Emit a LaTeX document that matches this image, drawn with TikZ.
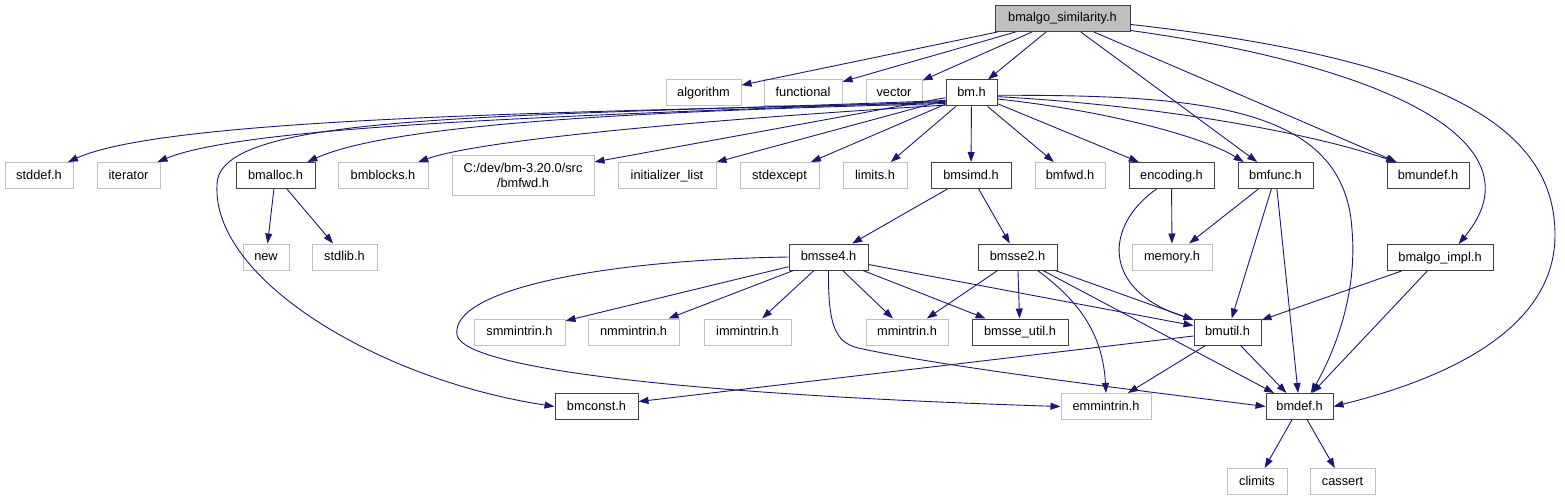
\documentclass[tikz,border=0pt]{standalone}
\usepackage{fontspec}
\setmainfont{Liberation Sans}
\usetikzlibrary{arrows.meta}

\definecolor{edgeblue}{RGB}{25,25,112}
\definecolor{sysgray}{RGB}{191,191,191}

\begin{document}
\begin{tikzpicture}[x=1pt, y=-1pt,
    hdr/.style={draw=black!75, line width=1pt, fill=white, inner sep=0pt,
        minimum height=26pt, text height=9.5pt, text depth=2.5pt,
        font=\fontsize{12.8}{15}\selectfont},
    sys/.style={hdr, draw=sysgray},
    root/.style={hdr, fill=sysgray},
    dep/.style={draw=edgeblue, line width=0.9pt, -{Triangle[length=10pt, width=7pt]}}]

    % Fix the size of the page
    \useasboundingbox (0,0) rectangle (1565,500);

    % The file itself
    \node[root, minimum width=135pt] (sim) at (1062.5,18.5) {bmalgo\_similarity.h};

    % First level
    \node[sys, minimum width=75pt] (algorithm) at (703.5,93) {algorithm};
    \node[sys, minimum width=78pt] (functional) at (803,93) {functional};
    \node[sys, minimum width=56pt] (vector) at (894,93) {vector};
    \node[hdr, minimum width=51pt] (bmh) at (971.5,93) {bm.h};

    % Second level
    \node[sys, minimum width=68pt] (stddef) at (39,175.5) {stddef.h};
    \node[sys, minimum width=63pt] (iterator) at (128.5,175.5) {iterator};
    \node[hdr, minimum width=79pt] (bmalloc) at (275.5,175.5) {bmalloc.h};
    \node[sys, minimum width=90pt] (bmblocks) at (383,175.5) {bmblocks.h};
    \node[sys, minimum width=142pt, minimum height=40pt, text height=, text depth=, align=center] (cdev) at (523,175) {C:/dev/bm-3.20.0/src\\/bmfwd.h};
    \node[sys, minimum width=98pt] (initlist) at (667,175.5) {initializer\_list};
    \node[sys, minimum width=79pt] (stdexcept) at (779.5,175.5) {stdexcept};
    \node[sys, minimum width=64pt] (limits) at (875,175.5) {limits.h};
    \node[hdr, minimum width=80pt] (bmsimd) at (971,175.5) {bmsimd.h};
    \node[sys, minimum width=70pt] (bmfwd) at (1070,175.5) {bmfwd.h};
    \node[hdr, minimum width=85pt] (encoding) at (1171.5,175.5) {encoding.h};
    \node[hdr, minimum width=75pt] (bmfunc) at (1275.5,175.5) {bmfunc.h};
    \node[hdr, minimum width=82pt] (bmundef) at (1428,175.5) {bmundef.h};

    % Third level
    \node[sys, minimum width=46pt] (new) at (266,257) {new};
    \node[sys, minimum width=65pt] (stdlib) at (344.5,257) {stdlib.h};
    \node[hdr, minimum width=79pt] (bmsse4) at (828.5,257) {bmsse4.h};
    \node[hdr, minimum width=79pt] (bmsse2) at (1017.5,257) {bmsse2.h};
    \node[sys, minimum width=80pt] (memory) at (1172,257) {memory.h};
    \node[hdr, minimum width=106pt] (bmalgoimpl) at (1440,257.5) {bmalgo\_impl.h};

    % Fourth level
    \node[sys, minimum width=91pt] (smmintrin) at (519.5,332) {smmintrin.h};
    \node[sys, minimum width=91pt] (nmmintrin) at (633.5,332) {nmmintrin.h};
    \node[sys, minimum width=87pt] (immintrin) at (747.5,332) {immintrin.h};
    \node[sys, minimum width=82pt] (mmintrin) at (907,332) {mmintrin.h};
    \node[hdr, minimum width=96pt] (bmsseutil) at (1020,332) {bmsse\_util.h};
    \node[hdr, minimum width=67pt] (bmutil) at (1227.5,332) {bmutil.h};

    % Fifth and last levels
    \node[hdr, minimum width=83pt] (bmconst) at (596.5,406.5) {bmconst.h};
    \node[sys, minimum width=90pt] (emmintrin) at (1106,406.5) {emmintrin.h};
    \node[hdr, minimum width=67pt] (bmdef) at (1299.5,406.5) {bmdef.h};
    \node[sys, minimum width=60pt] (climits) at (1257,481.5) {climits};
    \node[sys, minimum width=65pt] (cassert) at (1342.5,481.5) {cassert};

    % Includes of the file itself
    \draw[dep] (sim) -- (algorithm);
    \draw[dep] (sim) -- (functional);
    \draw[dep] (sim) -- (vector);
    \draw[dep] (sim) -- (bmh);
    \draw[dep] (sim) -- (bmfunc);
    \draw[dep] (sim) -- (bmundef);
    \draw[dep] (sim.-10) .. controls (1380,65) and (1545,140) .. (bmalgoimpl.36);
    \draw[dep] (sim.-5) .. controls (1450,60) and (1555,130) .. (1555,235)
        .. controls (1555,340) and (1420,385) .. (bmdef.east);

    % Includes of bm.h
    \draw[dep] (bmh.-160) .. controls (600,112) and (170,116) .. (stddef.25);
    \draw[dep] (bmh.-162) .. controls (600,115) and (250,124) .. (iterator.25);
    \draw[dep] (bmh.-164) .. controls (500,118) and (217,112) .. (217,185)
        .. controls (212,280) and (380,380) .. (bmconst.west);
    \draw[dep] (bmh.-158) .. controls (700,110) and (400,120) .. (bmalloc.23);
    \draw[dep] (bmh.-155) .. controls (700,120) and (480,140) .. (bmblocks.21);
    \draw[dep] (bmh) -- (cdev);
    \draw[dep] (bmh) -- (initlist);
    \draw[dep] (bmh) -- (stdexcept);
    \draw[dep] (bmh) -- (limits);
    \draw[dep] (bmh) -- (bmsimd);
    \draw[dep] (bmh) -- (bmfwd);
    \draw[dep] (bmh) -- (encoding);
    \draw[dep] (bmh.-13) .. controls (1100,110) and (1200,135) .. (bmfunc.157);
    \draw[dep] (bmh.-8) .. controls (1150,105) and (1300,130) .. (bmundef.157);
    \draw[dep] (bmh.-5) .. controls (1200,95) and (1345,105) .. (1352,230)
        .. controls (1358,300) and (1330,360) .. (bmdef.50);

    % Second level includes
    \draw[dep] (bmalloc) -- (new);
    \draw[dep] (bmalloc) -- (stdlib);
    \draw[dep] (bmsimd) -- (bmsse4);
    \draw[dep] (bmsimd) -- (bmsse2);
    \draw[dep] (encoding) -- (memory);
    \draw[dep] (encoding.-138) .. controls (1105,225) and (1100,290) .. (bmutil.160);
    \draw[dep] (bmfunc) -- (memory);
    \draw[dep] (bmfunc) -- (bmutil);
    \draw[dep] (bmfunc) -- (bmdef);

    % SIMD headers
    \draw[dep] (bmsse4) -- (smmintrin);
    \draw[dep] (bmsse4) -- (nmmintrin);
    \draw[dep] (bmsse4) -- (immintrin);
    \draw[dep] (bmsse4) -- (mmintrin);
    \draw[dep] (bmsse4) -- (bmsseutil);
    \draw[dep] (bmsse4) -- (bmutil);
    \draw[dep] (bmsse4.west) .. controls (600,260) and (450,290) .. (457,335)
        .. controls (465,370) and (700,395) .. (emmintrin.west);
    \draw[dep] (bmsse4.south) .. controls (828,325) and (835,342) .. (858,348)
        .. controls (950,368) and (1150,392) .. (bmdef.west);
    \draw[dep] (bmsse2) -- (mmintrin);
    \draw[dep] (bmsse2) -- (bmsseutil);
    \draw[dep] (bmsse2) -- (bmutil);
    \draw[dep] (bmsse2) -- (bmdef);
    \draw[dep] (bmsse2.-34) .. controls (1085,305) and (1103,340) .. (emmintrin.north);

    % The rest
    \draw[dep] (bmalgoimpl) -- (bmutil);
    \draw[dep] (bmalgoimpl) -- (bmdef);
    \draw[dep] (bmutil) -- (bmconst);
    \draw[dep] (bmutil) -- (emmintrin);
    \draw[dep] (bmutil) -- (bmdef);
    \draw[dep] (bmdef) -- (climits);
    \draw[dep] (bmdef) -- (cassert);

\end{tikzpicture}
\end{document}
